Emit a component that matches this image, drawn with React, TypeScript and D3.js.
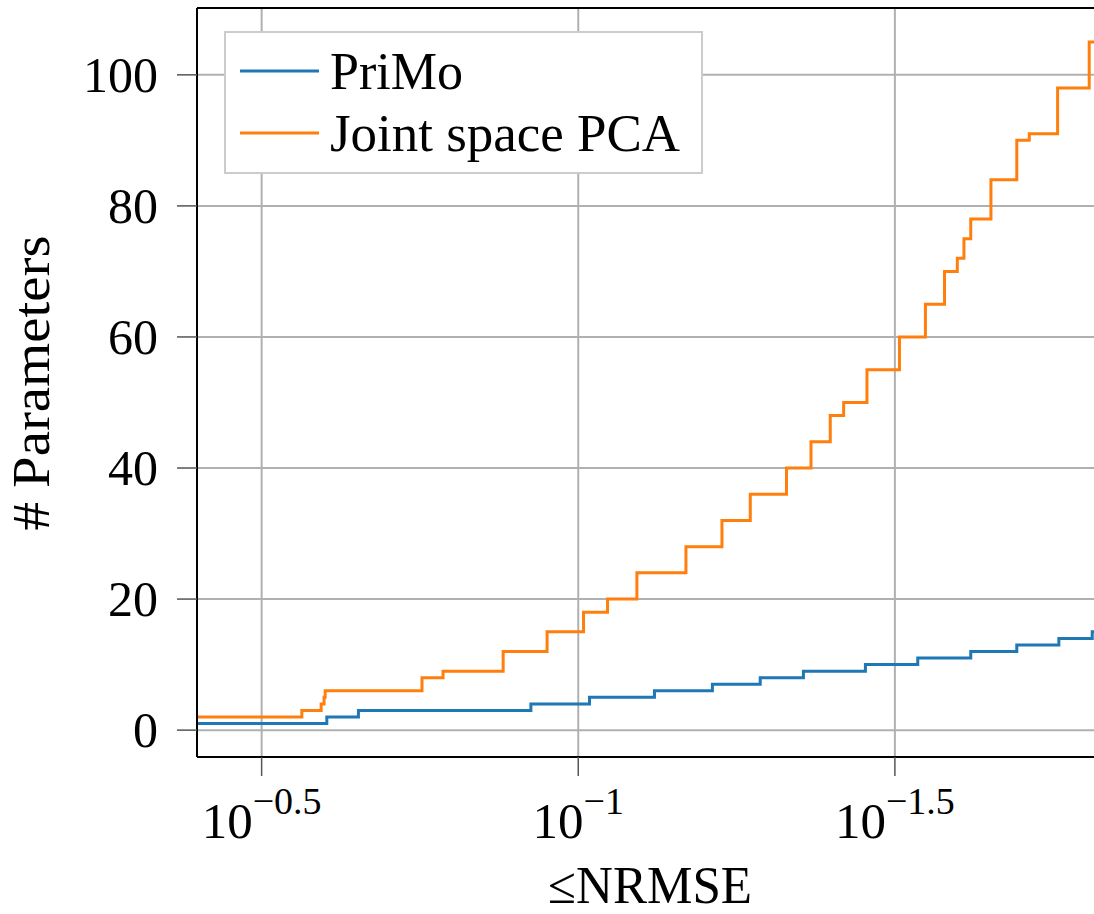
import { useEffect } from 'react';
import * as d3 from 'd3';

// step data: NRMSE threshold where the count jumps, and the number of parameters
const PRIMO_NRMSE = [0.45, 0.2495, 0.2224, 0.1188, 0.096, 0.0758, 0.0614, 0.0516, 0.0441, 0.0352, 0.0291, 0.024, 0.0203, 0.01742, 0.01543, 0.015];
const PRIMO_PARAMS = [1, 2, 3, 4, 5, 6, 7, 8, 9, 10, 11, 12, 13, 14, 15, 15];

const PCA_NRMSE = [
  0.45, 0.2732, 0.2547, 0.252, 0.251, 0.1765, 0.1635, 0.1314, 0.112, 0.0981, 0.0899, 0.0808, 0.0676,
  0.0593, 0.0535, 0.0469, 0.0429, 0.04, 0.0381, 0.035, 0.0311, 0.0283, 0.0264, 0.0252, 0.0246,
  0.024, 0.0223, 0.0203, 0.0194, 0.0175, 0.0156, 0.015,
];
const PCA_PARAMS = [
  2, 3, 4, 5, 6, 8, 9, 12, 15, 18, 20, 24, 28,
  32, 36, 40, 44, 48, 50, 55, 60, 65, 70, 72, 75,
  78, 84, 90, 91, 98, 105, 105,
];

const X_TICKS = [-0.5, -1, -1.5];
const X_TICK_EXP = ['\u22120.5', '\u22121', '\u22121.5'];
const Y_TICKS = [0, 20, 40, 60, 80, 100];

const SERIES = [
  { name: 'PriMo', color: '#1f77b4', xs: PRIMO_NRMSE, ys: PRIMO_PARAMS, len: 133 },
  { name: 'Joint space PCA', color: '#ff7f0e', xs: PCA_NRMSE, ys: PCA_PARAMS, len: 350 },
];

const W = 1094;
const H = 914;
const M = { left: 197, top: 8, right: 1100, bottom: 757 };
const FONT = '"Liberation Serif", "DejaVu Serif", serif';

export default function App() {
  useEffect(() => {
    document.body.style.margin = '0';
  }, []);

  const x = d3.scaleLog().domain([0.4, 0.015]).range([M.left, M.right]);
  const y = d3.scaleLinear().domain([-4.1, 110.2]).range([M.bottom, M.top]);

  const line = d3
    .line<[number, number]>()
    .x((d) => x(d[0]))
    .y((d) => y(d[1]))
    .curve(d3.curveStepAfter);

  return (
    <svg width={W} height={H} style={{ display: 'block', background: '#fff' }} fontFamily={FONT}>
      <defs>
        <clipPath id="plot">
          <rect x={M.left} y={M.top} width={M.right - M.left} height={M.bottom - M.top} />
        </clipPath>
      </defs>

      {/* grid */}
      <g stroke="#b0b0b0" strokeWidth={2}>
        {X_TICKS.map((t) => (
          <line key={'gx' + t} x1={x(10 ** t)} x2={x(10 ** t)} y1={M.top} y2={M.bottom} />
        ))}
        {Y_TICKS.map((t) => (
          <line key={'gy' + t} x1={M.left} x2={M.right} y1={y(t)} y2={y(t)} />
        ))}
      </g>

      {/* series */}
      <g clipPath="url(#plot)" fill="none" strokeWidth={3}>
        {SERIES.map((s) => (
          <path
            key={s.name}
            d={line(s.xs.map((v, i) => [v, s.ys[i]] as [number, number])) ?? ''}
            stroke={s.color}
          />
        ))}
      </g>

      {/* frame */}
      <g stroke="#000" strokeWidth={2} fill="none">
        <line x1={M.left} x2={M.left} y1={M.top} y2={M.bottom} />
        <line x1={M.left} x2={M.right} y1={M.bottom} y2={M.bottom} />
        <line x1={M.left} x2={M.right} y1={M.top} y2={M.top} />
      </g>

      {/* y ticks */}
      <g>
        {Y_TICKS.map((t) => (
          <g key={'yt' + t}>
            <line x1={M.left - 20} x2={M.left} y1={y(t)} y2={y(t)} stroke="#555" strokeWidth={1.5} />
            <text x={158} y={y(t)} dy="0.34em" textAnchor="end" fontSize={50} fill="#000">
              {t}
            </text>
          </g>
        ))}
      </g>

      {/* x ticks */}
      <g>
        {X_TICKS.map((t, i) => (
          <g key={'xt' + t}>
            <line x1={x(10 ** t)} x2={x(10 ** t)} y1={M.bottom} y2={M.bottom + 19} stroke="#555" strokeWidth={1.5} />
            <text x={x(10 ** t)} y={838} textAnchor="middle" fill="#000">
              <tspan fontSize={51}>10</tspan>
              <tspan fontSize={38} dy={-24}>{X_TICK_EXP[i]}</tspan>
            </text>
          </g>
        ))}
      </g>

      {/* axis labels */}
      <text x={650} y={903} textAnchor="middle" fontSize={52} fill="#000" textLength={204} lengthAdjust="spacingAndGlyphs">
        ≤NRMSE
      </text>
      <text
        transform={`translate(49, ${383}) rotate(-90)`}
        textAnchor="middle"
        fontSize={52}
        fill="#000"
        textLength={295}
        lengthAdjust="spacingAndGlyphs"
      >
        # Parameters
      </text>

      {/* legend */}
      <g>
        <rect x={225} y={32} width={477} height={141} fill="#fff" stroke="#cccccc" strokeWidth={2} />
        {SERIES.map((s, i) => (
          <g key={'lg' + s.name} transform={`translate(0, ${71 + i * 62})`}>
            <line x1={240} x2={319} y1={0} y2={0} stroke={s.color} strokeWidth={3} />
            <text x={330} y={0} dy="0.34em" fontSize={52} fill="#000" textLength={s.len} lengthAdjust="spacingAndGlyphs">
              {s.name}
            </text>
          </g>
        ))}
      </g>
    </svg>
  );
}
